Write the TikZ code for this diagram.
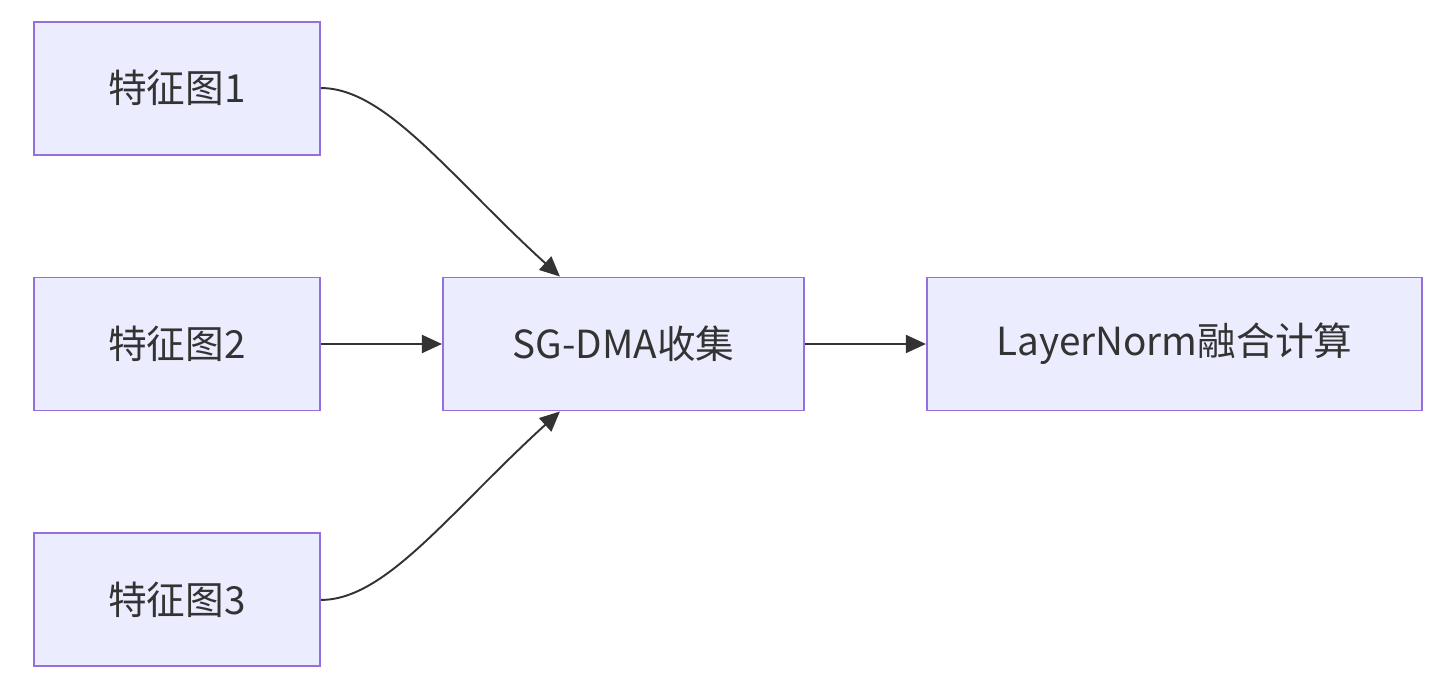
\documentclass[tikz,border=0pt]{standalone}
\usepackage{fontspec}
\setmainfont{Noto Sans CJK SC}
\usepackage{xcolor}
\usepackage{tikz}
\usetikzlibrary{arrows.meta, positioning, calc}
\definecolor{boxfill}{HTML}{ECECFF}
\definecolor{boxline}{HTML}{9370DB}
\definecolor{inkgrey}{HTML}{333333}
\tikzset{
  process/.style={rectangle, minimum height=2.66cm, inner sep=0pt, text centered,
    draw=boxline, line width=1.1pt, fill=boxfill, text=inkgrey,
    font=\fontsize{22}{26}\selectfont},
  arrow/.style={draw=inkgrey, line width=1.1pt, -{Triangle[length=0.4cm, width=0.36cm]}}
}

\begin{document}
\begin{tikzpicture}[node distance=2.42cm and 2.42cm]
\useasboundingbox (0,0) rectangle (29.06,-13.58);
% Feature maps
\node (fmap2) [process, minimum width=5.72cm] at (3.54,-6.88) {特征图2};
\node (fmap1) [process, minimum width=5.72cm, above=of fmap2] {特征图1};
\node (fmap3) [process, minimum width=5.72cm, below=of fmap2] {特征图3};
% Gather and fuse
\node (sgdma) [process, minimum width=7.22cm, right=of fmap2] {SG-DMA收集};
\node (lnorm) [process, minimum width=9.9cm, right=of sgdma] {LayerNorm融合计算};
\coordinate (sgtop) at ([xshift=-1.27cm]sgdma.north);
\coordinate (sgbot) at ([xshift=-1.27cm]sgdma.south);

% Links
\draw [arrow] (fmap1.east) .. controls +(1.3,0) and +(-2.2,2.0) .. (sgtop);
\draw [arrow] (fmap2) -- (sgdma);
\draw [arrow] (fmap3.east) .. controls +(1.3,0) and +(-2.2,-2.0) .. (sgbot);
\draw [arrow] (sgdma) -- (lnorm);
\end{tikzpicture}
\end{document}
